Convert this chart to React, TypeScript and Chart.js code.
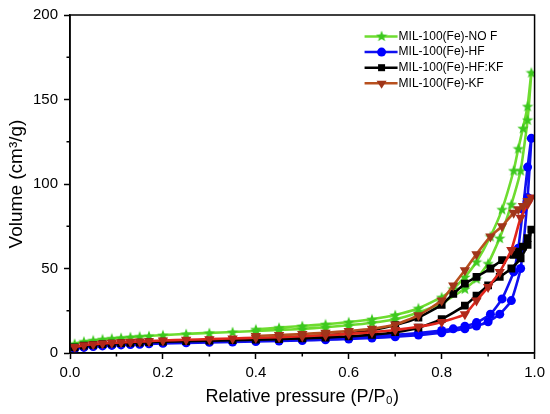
import React, { useEffect, useRef } from "react";
import { Chart, registerables } from "chart.js";
Chart.register(...registerables);

// Relative pressures (adsorption branch, then desorption branch)
const adsP = [0.01, 0.03, 0.05, 0.07, 0.09, 0.11, 0.13, 0.15, 0.17, 0.2, 0.25, 0.3, 0.35, 0.4, 0.45, 0.5, 0.55, 0.6, 0.65, 0.7, 0.75, 0.8, 0.85, 0.875, 0.9, 0.925, 0.95, 0.97, 0.985, 0.993];
const desP = [0.985, 0.975, 0.965, 0.955, 0.93, 0.905, 0.875, 0.85, 0.825, 0.8, 0.75, 0.7, 0.65, 0.6, 0.55, 0.5, 0.45, 0.4];

const noF_ads = [5.5, 6.8, 7.5, 8.1, 8.6, 9.0, 9.4, 9.8, 10.1, 10.6, 11.3, 11.9, 12.4, 13.0, 13.6, 14.3, 15.2, 16.4, 17.9, 20, 24, 29.5, 38, 44, 53, 68, 88, 108, 138, 166];
const noF_des = [146, 133, 121, 108, 85, 69, 54, 45, 38, 33, 26.5, 22.5, 20, 18.3, 17, 16, 15, 14];

const hf_ads = [2.5, 3.3, 3.8, 4.2, 4.5, 4.8, 5.0, 5.2, 5.4, 5.7, 6.0, 6.3, 6.5, 6.8, 7.1, 7.4, 7.8, 8.3, 8.9, 9.6, 10.6, 12, 14.3, 16, 18.5, 23, 31, 50, 92, 127];
const hf_des = [110, 85, 62, 48, 32, 23, 18, 15.8, 14.3, 13.3, 11.8, 10.7, 9.9, 9.2, 8.6, 8.1, 7.7, 7.3];

const hfkf_ads = [3.3, 4.3, 4.8, 5.2, 5.5, 5.8, 6.0, 6.2, 6.4, 6.7, 7.0, 7.3, 7.6, 7.9, 8.2, 8.6, 9.1, 9.8, 10.8, 12.3, 15, 20, 28, 34, 40, 45, 50, 56, 64, 73];
const hfkf_des = [68, 63, 60, 58, 55, 50, 45, 41, 35, 28.5, 21, 16.5, 13.5, 11.7, 10.5, 9.6, 9.0, 8.5];

const kf_ads = [3.5, 4.6, 5.2, 5.6, 6.0, 6.3, 6.6, 6.8, 7.0, 7.4, 7.8, 8.2, 8.6, 9.0, 9.4, 9.9, 10.5, 11.3, 12.3, 13.6, 15.5, 18.4, 23, 31, 39, 48, 61, 80, 88, 92];
const kf_des = [90, 87, 85, 83, 75, 69, 58.5, 49, 40, 31, 22.3, 16.8, 14.3, 13, 12, 11.2, 10.6, 10.1];

const seriesLabels = ["MIL-100(Fe)-NO F", "MIL-100(Fe)-HF", "MIL-100(Fe)-HF:KF", "MIL-100(Fe)-KF"];
const xMinor = [0.1, 0.3, 0.5, 0.7, 0.9];
const yMinor = [25, 75, 125, 175];

const FONT = "'Liberation Sans', Arial, Helvetica, sans-serif";

function makeStar(color: string, size: number) {
  const c = document.createElement("canvas");
  c.width = size;
  c.height = size;
  const g = c.getContext("2d")!;
  const cx = size / 2, cy = size / 2 + 0.5, ro = size / 2, ri = ro * 0.42;
  g.beginPath();
  for (let i = 0; i < 10; i++) {
    const r = i % 2 === 0 ? ro : ri;
    const a = -Math.PI / 2 + (i * Math.PI) / 5;
    const px = cx + r * Math.cos(a), py = cy + r * Math.sin(a);
    if (i === 0) g.moveTo(px, py);
    else g.lineTo(px, py);
  }
  g.closePath();
  g.fillStyle = color;
  g.fill();
  return c;
}

function pts(ads: number[], des: number[]) {
  return [
    ...adsP.map((p, i) => ({ x: p, y: ads[i] })),
    ...desP.map((p, i) => ({ x: p, y: des[i] })),
  ];
}

export default function App() {
  const ref = useRef<HTMLCanvasElement>(null);
  useEffect(() => {
    if (!ref.current) return;
    const star = makeStar("#3cc81e", 12);
    const legendStar = makeStar("#3cc81e", 12);
    const adsLen = adsP.length;

    const styles = [
      { line: "#6edc30", point: "#3cc81e", kind: "star" },
      { line: "#1010f0", point: "#0000ff", kind: "circle" },
      { line: "#000000", point: "#000000", kind: "rect" },
      { line: "#b8501e", point: "#a0361a", kind: "tri" },
    ];

    const legendPlugin = {
      id: "customLegend",
      afterDraw(chart: any) {
        const { ctx, chartArea } = chart;
        ctx.save();
        const x0 = chartArea.right - 170;
        const x1 = x0 + 33;
        const mx = x0 + 17;
        seriesLabels.forEach((label, i) => {
          const yy = chartArea.top + 21.5 + i * 15.6;
          const s = styles[i];
          ctx.strokeStyle = s.line;
          ctx.lineWidth = 2.5;
          ctx.beginPath();
          ctx.moveTo(x0, yy);
          ctx.lineTo(x1, yy);
          ctx.stroke();
          ctx.fillStyle = s.point;
          if (s.kind === "star") {
            ctx.drawImage(legendStar, mx - 6, yy - 6.5);
          } else if (s.kind === "circle") {
            ctx.beginPath();
            ctx.arc(mx, yy, 4.5, 0, Math.PI * 2);
            ctx.fill();
          } else if (s.kind === "rect") {
            ctx.fillRect(mx - 3.5, yy - 3.5, 7, 7);
          } else {
            ctx.beginPath();
            ctx.moveTo(mx - 5, yy - 2.5);
            ctx.lineTo(mx + 5, yy - 2.5);
            ctx.lineTo(mx, yy + 5.5);
            ctx.closePath();
            ctx.fill();
          }
          ctx.fillStyle = "#000";
          ctx.font = `12px ${FONT}`;
          ctx.textBaseline = "middle";
          ctx.textAlign = "left";
          ctx.fillText(label, x1 + 1, yy);
        });
        ctx.restore();
      },
    };

    const framePlugin = {
      id: "frameAndMinor",
      afterDraw(chart: any) {
        const { ctx, chartArea, scales } = chart;
        const x = scales.x, y = scales.y;
        ctx.save();
        ctx.strokeStyle = "#000";
        ctx.lineWidth = 1.5;
        xMinor.forEach((v) => {
          const px = x.getPixelForValue(v);
          ctx.beginPath();
          ctx.moveTo(px, chartArea.bottom);
          ctx.lineTo(px, chartArea.bottom + 3.5);
          ctx.stroke();
        });
        yMinor.forEach((v) => {
          const py = y.getPixelForValue(v);
          ctx.beginPath();
          ctx.moveTo(chartArea.left, py);
          ctx.lineTo(chartArea.left - 3.5, py);
          ctx.stroke();
        });
        ctx.strokeRect(chartArea.left, chartArea.top, chartArea.right - chartArea.left, chartArea.bottom - chartArea.top);
        ctx.restore();
      },
    };

    const common = {
      showLine: true,
      borderWidth: 2.6,
      tension: 0.15,
      pointBorderWidth: 0,
      pointHoverRadius: 4,
    };

    const chart = new Chart(ref.current, {
      type: "scatter",
      data: {
        datasets: [
          {
            ...common,
            label: seriesLabels[0],
            data: pts(noF_ads, noF_des),
            borderColor: styles[0].line,
            backgroundColor: styles[0].point,
            pointStyle: star as any,
            pointRadius: 6,
            order: 3,
          },
          {
            ...common,
            label: seriesLabels[1],
            data: pts(hf_ads, hf_des),
            borderColor: styles[1].line,
            backgroundColor: styles[1].point,
            pointBackgroundColor: styles[1].point,
            pointStyle: "circle",
            pointRadius: 4.5,
            order: 2,
          },
          {
            ...common,
            label: seriesLabels[2],
            data: pts(hfkf_ads, hfkf_des),
            borderColor: styles[2].line,
            backgroundColor: styles[2].point,
            pointBackgroundColor: styles[2].point,
            pointStyle: "rect",
            pointRadius: 5.5,
            order: 1,
          },
          {
            ...common,
            label: seriesLabels[3],
            data: pts(kf_ads, kf_des),
            borderColor: styles[3].line,
            backgroundColor: styles[3].point,
            pointBackgroundColor: (c: any) => (c.dataIndex < adsLen ? "#b0281a" : styles[3].point),
            pointStyle: "triangle",
            pointRotation: 180,
            pointRadius: 6,
            segment: {
              borderColor: (c: any) => (c.p0DataIndex < adsLen - 1 ? "#e0261c" : styles[3].line),
            },
            order: 0,
          },
        ] as any,
      },
      options: {
        animation: false,
        responsive: false,
        layout: { padding: { top: 12, right: 13, left: 0, bottom: 0 } },
        plugins: { legend: { display: false }, tooltip: { enabled: false } },
        scales: {
          x: {
            type: "linear",
            min: 0,
            max: 1,
            ticks: {
              stepSize: 0.2,
              callback: (v: any) => Number(v).toFixed(1),
              font: { family: FONT, size: 15 },
              color: "#000",
              padding: 5,
              maxRotation: 0,
              autoSkip: false,
            },
            grid: { drawOnChartArea: false, drawTicks: true, tickLength: 6, tickColor: "#000", tickWidth: 1.5 },
            border: { display: true, color: "#000", width: 1.5 },
            title: {
              display: true,
              text: "Relative pressure (P/P\u2080)",
              font: { family: FONT, size: 18 },
              color: "#000",
              padding: { top: 0, bottom: 6 },
            },
            afterFit: (s: any) => {
              s.height = 61;
            },
          },
          y: {
            type: "linear",
            min: 0,
            max: 200,
            ticks: {
              stepSize: 50,
              font: { family: FONT, size: 15 },
              color: "#000",
              padding: 6,
            },
            grid: { drawOnChartArea: false, drawTicks: true, tickLength: 6, tickColor: "#000", tickWidth: 1.5 },
            border: { display: true, color: "#000", width: 1.5 },
            title: {
              display: true,
              text: "Volume (cm\u00b3/g)",
              font: { family: FONT, size: 19 },
              color: "#000",
              padding: { top: 5, bottom: 0 },
            },
            afterFit: (s: any) => {
              s.width = 70;
            },
          },
        },
      } as any,
      plugins: [framePlugin, legendPlugin],
    });
    return () => chart.destroy();
  }, []);

  return (
    <div style={{ position: "fixed", left: 0, top: 0, width: 550, height: 414, background: "#fff" }}>
      <canvas ref={ref} width={550} height={414} style={{ width: 550, height: 414 }} />
    </div>
  );
}
